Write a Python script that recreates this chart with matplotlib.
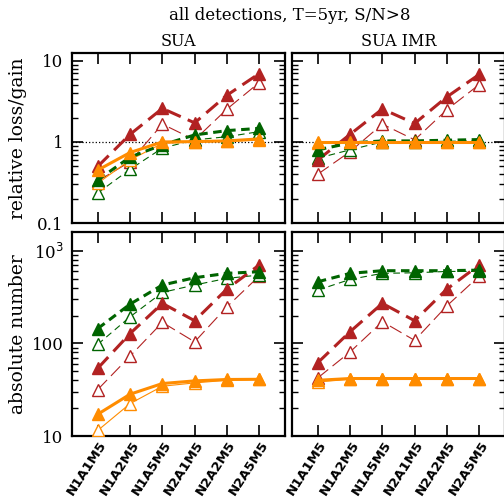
import numpy as np
import matplotlib
matplotlib.use("Agg")
import matplotlib.pyplot as plt
import matplotlib.transforms as mtransforms
from matplotlib.ticker import LogLocator, NullFormatter, FixedLocator

runs = ["N1A1M5", "N1A2M5", "N1A5M5", "N2A1M5", "N2A2M5", "N2A5M5"]

# relative loss/gain
rel_sua_red_f = [0.50, 1.24, 2.59, 1.72, 3.77, 6.97]
rel_sua_red_o = [0.33, 0.57, 1.66, 1.06, 2.54, 5.40]
rel_sua_grn_f = [0.34, 0.65, 0.92, 1.22, 1.38, 1.47]
rel_sua_grn_o = [0.235, 0.46, 0.84, 1.06, 1.16, 1.34]
rel_sua_org_f = [0.45, 0.74, 1.00, 1.01, 1.03, 1.09]
rel_sua_org_o = [0.31, 0.60, 0.96, 1.00, 1.02, 1.05]

rel_imr_red_f = [0.60, 1.24, 2.55, 1.69, 3.60, 6.80]
rel_imr_red_o = [0.40, 0.76, 1.66, 1.06, 2.50, 5.10]
rel_imr_grn_f = [0.80, 0.97, 1.03, 1.03, 1.05, 1.07]
rel_imr_grn_o = [0.63, 0.80, 1.00, 1.00, 1.02, 1.03]
rel_imr_org_f = [1.00, 1.00, 1.00, 1.00, 1.00, 1.00]
rel_imr_org_o = [0.98, 1.00, 1.00, 1.00, 1.00, 1.00]

# absolute number
abs_sua_red_f = [54, 128, 271, 176, 387, 704]
abs_sua_red_o = [31.8, 73, 169, 104, 249, 535]
abs_sua_grn_f = [145, 266, 428, 513, 572, 596]
abs_sua_grn_o = [98, 194, 356, 428, 505, 548]
abs_sua_org_f = [17.2, 28.3, 36.9, 39.4, 40.8, 41]
abs_sua_org_o = [11.5, 22.4, 34.5, 37.5, 40, 41]

abs_imr_red_f = [62, 134, 271, 176, 387, 704]
abs_imr_red_o = [42.5, 81, 172, 108, 255, 535]
abs_imr_grn_f = [464, 572, 611, 611, 611, 620]
abs_imr_grn_o = [377, 492, 572, 580, 600, 600]
abs_imr_org_f = [40, 41.8, 41.8, 41.8, 41.8, 41.8]
abs_imr_org_o = [38.4, 41, 41, 41, 41, 41]

red = "#b22222"
green = "#006400"
orange = "#ff8c00"

plt.rcParams['font.family'] = ['DejaVu Serif']

fig = plt.figure(figsize=(5.04, 4.97), dpi=100)
W = 213 / 504
pos = {
    (0, 0): [72 / 504, 0.5513, W, 0.342],
    (0, 1): [292 / 504, 0.5513, W, 0.342],
    (1, 0): [72 / 504, 0.1227, W, 0.4105],
    (1, 1): [292 / 504, 0.1227, W, 0.4105],
}

panels = {
    (0, 0): [rel_sua_red_f, rel_sua_red_o, rel_sua_grn_f, rel_sua_grn_o, rel_sua_org_f, rel_sua_org_o],
    (0, 1): [rel_imr_red_f, rel_imr_red_o, rel_imr_grn_f, rel_imr_grn_o, rel_imr_org_f, rel_imr_org_o],
    (1, 0): [abs_sua_red_f, abs_sua_red_o, abs_sua_grn_f, abs_sua_grn_o, abs_sua_org_f, abs_sua_org_o],
    (1, 1): [abs_imr_red_f, abs_imr_red_o, abs_imr_grn_f, abs_imr_grn_o, abs_imr_org_f, abs_imr_org_o],
}

styles = [
    dict(color=red, lw=2.2, dashes=(5, 2.5), marker="^", ms=8.5, mfc=red, zorder=5),
    dict(color=red, lw=0.8, dashes=(12, 5), marker="^", ms=8.5, mfc="white", zorder=4),
    dict(color=green, lw=2.2, dashes=(2.8, 1.8), marker="^", ms=8.5, mfc=green, zorder=5),
    dict(color=green, lw=0.8, dashes=(6, 4), marker="^", ms=8.5, mfc="white", zorder=4),
    dict(color=orange, lw=2.2, ls="-", marker="^", ms=8.5, mfc=orange, zorder=6),
    dict(color=orange, lw=0.8, ls="-", marker="^", ms=8.5, mfc="white", zorder=4),
]
draw_order = [1, 3, 5, 0, 2, 4]

shift = mtransforms.ScaledTranslation(6 / 100, -1 / 100, fig.dpi_scale_trans)

x = np.arange(len(runs))
for (r, c), p in pos.items():
    ax = fig.add_axes(p)
    data = panels[(r, c)]
    for i in draw_order:
        st = dict(styles[i])
        ax.plot(x, data[i], mec=st["color"], mew=1.0, **st)
    ax.set_yscale("log")
    ax.set_xlim(-0.8, 5.8)
    ax.set_xticks(x)
    ax.yaxis.set_minor_locator(LogLocator(base=10, subs=np.arange(2, 10), numticks=20))
    ax.yaxis.set_minor_formatter(NullFormatter())
    ax.tick_params(which="major", direction="in", length=8, width=1.2, top=True, right=True)
    ax.tick_params(axis="y", which="major", labelsize=12, pad=6)
    ax.tick_params(axis="x", which="major", labelsize=9.5, pad=4)
    ax.tick_params(which="minor", direction="in", length=4, width=1.0, right=True)
    ax.tick_params(axis="x", which="minor", bottom=False, top=False)
    if r == 0:
        ax.set_ylim(0.1, 12.5)
        ax.axhline(1, color="black", lw=0.9, ls=":", zorder=1)
        ax.yaxis.set_major_locator(FixedLocator([0.1, 1, 10]))
        ax.set_yticklabels(["0.1", "1", "10"])
        ax.set_title("SUA" if c == 0 else "SUA IMR", fontsize=11.5, pad=5)
        ax.set_xticklabels([])
    else:
        ax.set_ylim(10, 1600)
        ax.yaxis.set_major_locator(FixedLocator([10, 100, 1000]))
        ax.set_yticklabels(["10", "100", "10$^3$"])
        ax.set_xticklabels(runs, rotation=57, ha="right", va="center", rotation_mode="anchor",
                           fontsize=9.5, family="DejaVu Sans", fontweight="bold")
        for lab in ax.get_xticklabels():
            lab.set_transform(lab.get_transform() + shift)
    if c == 1:
        ax.set_yticklabels([])
    for s in ax.spines.values():
        s.set_linewidth(1.6)
    if c == 0:
        ax.set_ylabel("relative loss/gain" if r == 0 else "absolute number", fontsize=13.5)
        ax.yaxis.set_label_coords(-0.21, 0.5)

fig.text(290 / 504, 1 - 15 / 497, "all detections, T=5yr, S/N>8", ha="center", va="center", fontsize=12)

fig.savefig("out.png", dpi=100)
